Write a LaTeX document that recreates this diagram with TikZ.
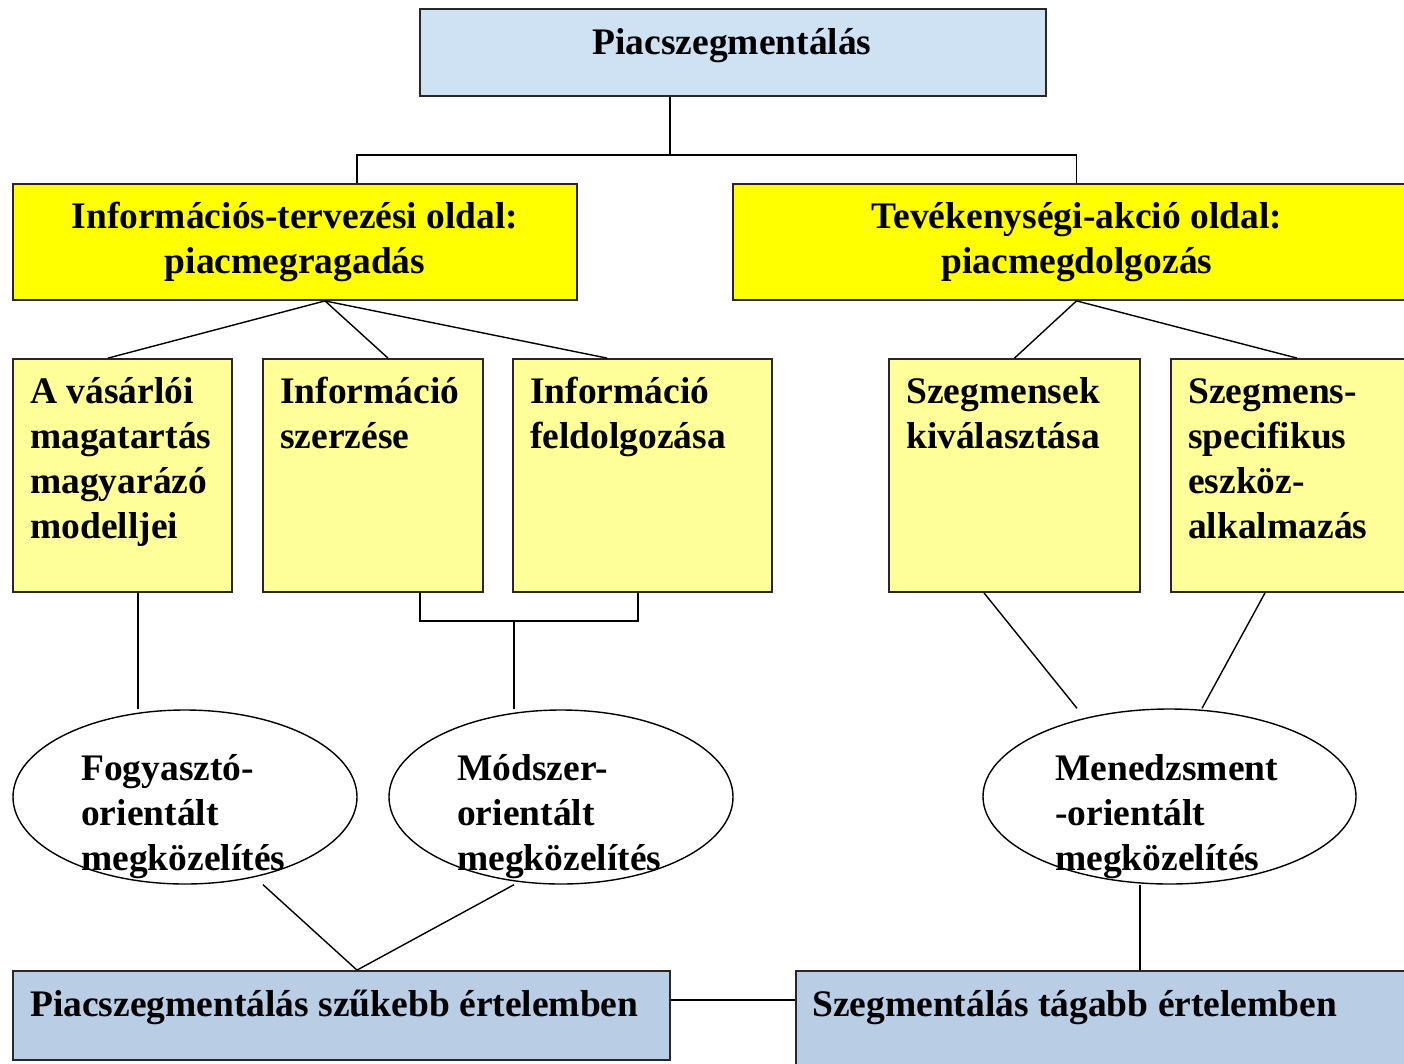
\documentclass[tikz,border=0pt]{standalone}
\usepackage{fontspec}
\setmainfont{Liberation Serif}
\usetikzlibrary{shapes.geometric}

\definecolor{topblue}{RGB}{207,226,243}
\definecolor{bigyellow}{RGB}{255,255,0}
\definecolor{paleyellow}{RGB}{255,255,153}
\definecolor{botblue}{RGB}{185,205,229}
\definecolor{edgegray}{RGB}{40,40,40}

\tikzset{
  box/.style={rectangle, draw=edgegray, line width=1.8pt, inner sep=0pt},
  oval/.style={ellipse, draw=black, line width=1.4pt, fill=white, inner sep=0pt},
  txt/.style={inner sep=0pt, font=\bfseries\fontsize{37.5}{45}\selectfont},
  link/.style={draw=black, line width=1.8pt},
  slant/.style={draw=black, line width=1.4pt},
}

\begin{document}
\begin{tikzpicture}[x=1pt, y=-1pt]
\useasboundingbox (0,0) rectangle (1404,1063);
\clip (0,0) rectangle (1404,1063);
\fill[white] (0,0) rectangle (1404,1063);

% boxes
\node[box, fill=topblue, minimum width=626pt, minimum height=87pt] (top) at (733,52.5) {};
\node[box, fill=bigyellow, minimum width=564pt, minimum height=116pt] (infoL) at (295,242) {};
\node[box, fill=bigyellow, minimum width=687pt, minimum height=116pt] (actR) at (1076.5,242) {};

\node[box, fill=paleyellow, minimum width=219pt, minimum height=233pt] (sA) at (122.5,475.5) {};
\node[box, fill=paleyellow, minimum width=220pt, minimum height=233pt] (sB) at (373,475.5) {};
\node[box, fill=paleyellow, minimum width=259pt, minimum height=233pt] (sC) at (642.5,475.5) {};
\node[box, fill=paleyellow, minimum width=251pt, minimum height=233pt] (sD) at (1014.5,475.5) {};
\node[box, fill=paleyellow, minimum width=249pt, minimum height=233pt] (sE) at (1295.5,475.5) {};

\node[oval, minimum width=344pt, minimum height=174pt] (eF) at (185,797) {};
\node[oval, minimum width=344pt, minimum height=174pt] (eM) at (561,797) {};
\node[oval, minimum width=373pt, minimum height=175pt] (eMen) at (1169.5,796.5) {};

\node[box, fill=botblue, minimum width=657pt, minimum height=89pt] (bL) at (341.5,1015.5) {};
\node[box, fill=botblue, minimum width=624pt, minimum height=104pt] (bR) at (1108,1023) {};

% texts (multi-line nodes are placed by the baseline of their last line)
\node[txt, anchor=base] (ttop) at (732,54) {Piacszegmentálás};
\node[txt, anchor=base, align=center] (tinfoL) at (295,273) {Információs-tervezési oldal:\\piacmegragadás};
\node[txt, anchor=base, align=center] (tactR) at (1077,273) {Tevékenységi-akció oldal:\\piacmegdolgozás};

\node[txt, anchor=base west, align=left] (tsA) at (30,538) {A vásárlói\\magatartás\\magyarázó\\modelljei};
\node[txt, anchor=base west, align=left] (tsB) at (280,448) {Információ\\szerzése};
\node[txt, anchor=base west, align=left] (tsC) at (530,448) {Információ\\feldolgozása};
\node[txt, anchor=base west, align=left] (tsD) at (906,448) {Szegmensek\\kiválasztása};
\node[txt, anchor=base west, align=left] (tsE) at (1188,538) {Szegmens-\\specifikus\\eszköz-\\alkalmazás};

\node[txt, anchor=base west, align=left] (teF) at (81,870) {Fogyasztó-\\orientált\\megközelítés};
\node[txt, anchor=base west, align=left] (teM) at (457,870) {Módszer-\\orientált\\megközelítés};
\node[txt, anchor=base west, align=left] (teMen) at (1055,870) {Menedzsment\\-orientált\\megközelítés};

\node[txt, anchor=base west] (tbL) at (30,1016) {Piacszegmentálás szűkebb értelemben};
\node[txt, anchor=base west] (tbR) at (812,1016) {Szegmentálás tágabb értelemben};

% connectors: top level split
\coordinate (j1) at (670,155);
\draw[link] ([xshift=-63pt]top.south) -- (j1);
\draw[link] ([xshift=62pt]infoL.north) |- (j1) -| (actR.north);

% information side fan-out
\draw[slant] ([xshift=30pt]infoL.south) -- ([xshift=-14.5pt]sA.north);
\draw[slant] ([xshift=30pt]infoL.south) -- ([xshift=15pt]sB.north);
\draw[slant] ([xshift=30pt]infoL.south) -- ([xshift=-35.5pt]sC.north);

% action side fan-out
\draw[slant] (actR.south) -- (sD.north);
\draw[slant] (actR.south) -- ([xshift=1.5pt]sE.north);

% boxes to approaches
\draw[slant] ([xshift=15.5pt]sA.south) -- ([xshift=15.5pt]sA.south |- eF.north);
\coordinate (j2) at (514,621);
\draw[link] ([xshift=47pt]sB.south) |- (j2) -| ([xshift=-4.5pt]sC.south);
\draw[link] (j2) -- (j2 |- eM.north);
\draw[slant] ([xshift=-30.5pt]sD.south) -- ([xshift=-92.5pt]eMen.north);
\draw[slant] ([xshift=-30.5pt]sE.south) -- ([xshift=32.5pt]eMen.north);

% approaches to the two meanings
\draw[slant] ([xshift=78pt]eF.south) -- ([xshift=15.5pt]bL.north);
\draw[slant] ([xshift=-47pt]eM.south) -- ([xshift=15.5pt]bL.north);
\draw[link] ([xshift=-29.5pt]eMen.south) -- ([xshift=-29.5pt]eMen.south |- bR.north);
\draw[link] ([yshift=15.5pt]bL.east) -- ([yshift=15.5pt]bL.east -| bR.west);
\end{tikzpicture}
\end{document}
